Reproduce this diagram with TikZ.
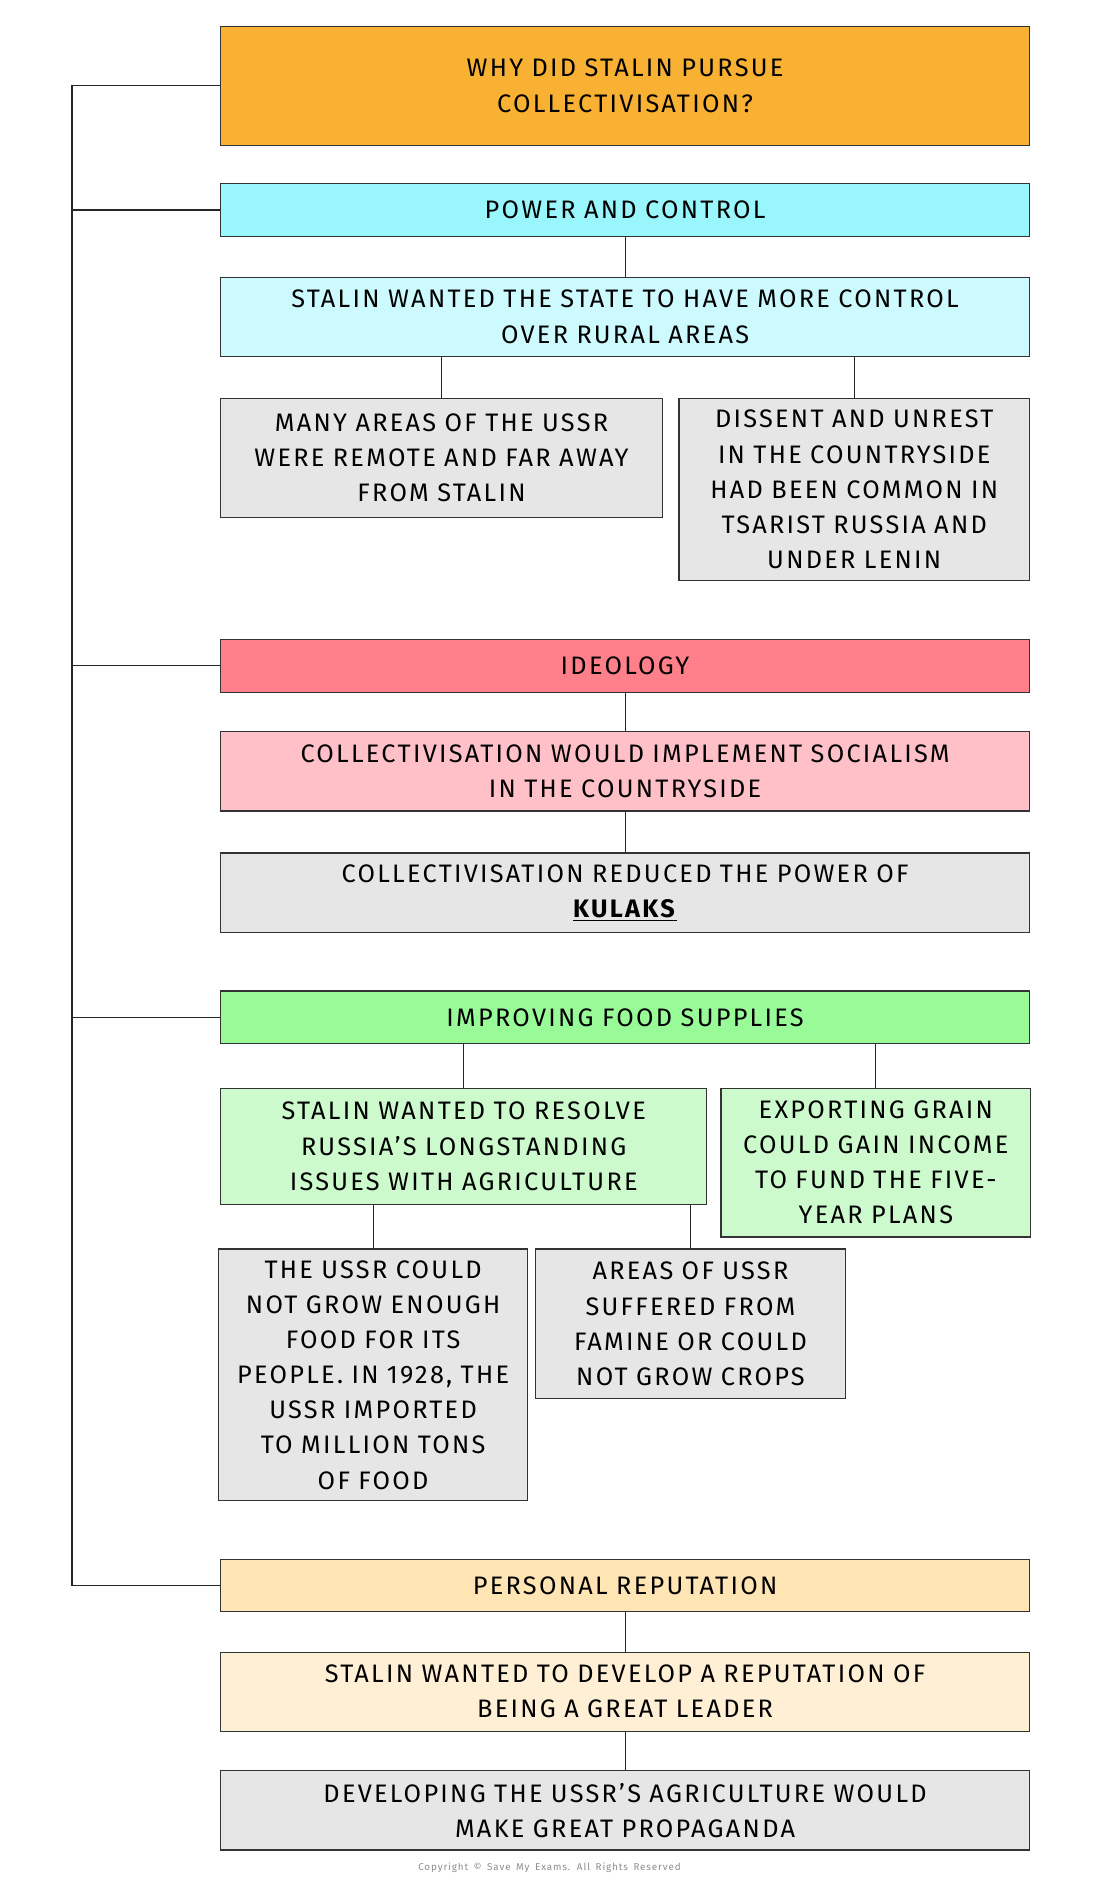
\documentclass[tikz,border=0pt]{standalone}
\usepackage{fontspec}
\setmainfont{Fira Sans}[LetterSpace=9,WordSpace=1.6]
\usetikzlibrary{calc}
\definecolor{cOr}{HTML}{F8B133}
\definecolor{cCy}{HTML}{99F6FC}
\definecolor{cCyL}{HTML}{CCFAFE}
\definecolor{cGr}{HTML}{E6E6E6}
\definecolor{cRd}{HTML}{FF7F8A}
\definecolor{cRdL}{HTML}{FFC0C8}
\definecolor{cGn}{HTML}{98FB98}
\definecolor{cGnL}{HTML}{CCFACC}
\definecolor{cYe}{HTML}{FFE5B3}
\definecolor{cYeL}{HTML}{FFF0D5}
\begin{document}
\begin{tikzpicture}[x=0.03cm,y=-0.03cm,
 box/.style={draw=black!80,line width=0.8pt,align=center,inner sep=2pt,
   font=\fontsize{18}{25}\selectfont},
 full/.style={box,minimum width=20.22cm,text width=19.9cm},
 ln/.style={draw=black!85,line width=0.8pt}]
\useasboundingbox (0,0) rectangle (917,1567);
\node[full,fill=cOr,minimum height=2.97cm] (title) at (521,71.5) {WHY DID STALIN PURSUE\\COLLECTIVISATION?};
\node[full,fill=cCy,minimum height=1.32cm] (power) at (521,175) {POWER AND CONTROL};
\node[full,fill=cCyL,minimum height=1.98cm] (control) at (521,264) {STALIN WANTED THE STATE TO HAVE MORE CONTROL\\OVER RURAL AREAS};
\node[box,fill=cGr,minimum width=11.04cm,minimum height=2.97cm,text width=10.8cm] (many) at (368,381.5) {MANY AREAS OF THE USSR\\WERE REMOTE AND FAR AWAY\\FROM STALIN};
\node[box,fill=cGr,minimum width=8.76cm,minimum height=4.56cm,text width=8.6cm] (dissent) at (712,408) {DISSENT AND UNREST\\IN THE COUNTRYSIDE\\HAD BEEN COMMON IN\\TSARIST RUSSIA AND\\UNDER LENIN};
\node[full,fill=cRd,minimum height=1.32cm] (ideo) at (521,555) {IDEOLOGY};
\node[full,fill=cRdL,minimum height=1.98cm] (social) at (521,643) {COLLECTIVISATION WOULD IMPLEMENT SOCIALISM\\IN THE COUNTRYSIDE};
\node[full,fill=cGr,minimum height=1.98cm] (kulak) at (521,744) {COLLECTIVISATION REDUCED THE POWER OF\\\underline{\textbf{KULAKS}}};
\node[full,fill=cGn,minimum height=1.32cm] (food) at (521,848) {IMPROVING FOOD SUPPLIES};
\node[box,fill=cGnL,minimum width=12.15cm,minimum height=2.91cm,text width=11.9cm] (resolve) at (386.5,955.5) {STALIN WANTED TO RESOLVE\\RUSSIA’S LONGSTANDING\\ISSUES WITH AGRICULTURE};
\node[box,fill=cGnL,minimum width=7.68cm,minimum height=3.72cm,text width=7.6cm] (export) at (730,969) {EXPORTING GRAIN\\COULD GAIN INCOME\\TO FUND THE FIVE-\\YEAR PLANS};
\node[box,fill=cGr,minimum width=7.62cm,minimum height=6.3cm,text width=7.6cm] (ussr) at (311,1146) {THE USSR COULD\\NOT GROW ENOUGH\\FOOD FOR ITS\\PEOPLE. IN 1928, THE\\USSR IMPORTED\\TO MILLION TONS\\OF FOOD};
\node[box,fill=cGr,minimum width=7.65cm,minimum height=3.75cm,text width=7.6cm] (famine) at (575.5,1103.5) {AREAS OF USSR\\SUFFERED FROM\\FAMINE OR COULD\\NOT GROW CROPS};
\node[full,fill=cYe,minimum height=1.29cm] (pers) at (521,1321.5) {PERSONAL REPUTATION};
\node[full,fill=cYeL,minimum height=1.98cm] (rep) at (521,1410) {STALIN WANTED TO DEVELOP A REPUTATION OF\\BEING A GREAT LEADER};
\node[full,fill=cGr,minimum height=1.98cm] (dev) at (521,1509) {DEVELOPING THE USSR’S AGRICULTURE WOULD\\MAKE GREAT PROPAGANDA};
\node[text=black!45,font=\fontsize{7}{8}\selectfont] (copy) at (458,1557) {Copyright © Save My Exams. All Rights Reserved};
\coordinate (bus) at (60,72);
\draw[ln] (title.west) -- (title.west -| bus) -- (pers.west -| bus) -- (pers.west);
\foreach \n in {power,ideo,food} \draw[ln] (\n.west) -- (\n.west -| bus);
\draw[ln] (power.south) -- (control.north);
\draw[ln] (many.north) -- (many.north |- control.south);
\draw[ln] (dissent.north) -- (dissent.north |- control.south);
\draw[ln] (ideo.south) -- (social.north);
\draw[ln] (social.south) -- (kulak.north);
\draw[ln] (resolve.north) -- (resolve.north |- food.south);
\draw[ln] (export.north) -- (export.north |- food.south);
\draw[ln] (ussr.north) -- (ussr.north |- resolve.south);
\draw[ln] (famine.north) -- (famine.north |- resolve.south);
\draw[ln] (pers.south) -- (rep.north);
\draw[ln] (rep.south) -- (dev.north);
\end{tikzpicture}
\end{document}
